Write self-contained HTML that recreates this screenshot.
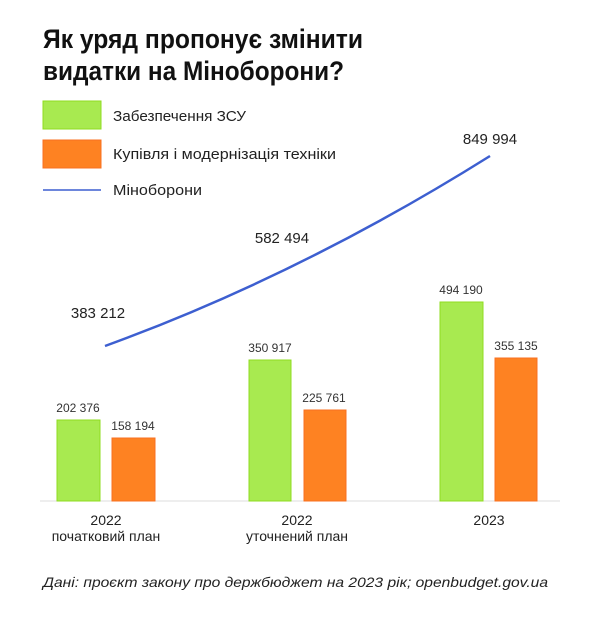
<!DOCTYPE html>
<html><head><meta charset="utf-8"><style>
html,body{margin:0;padding:0;background:#fff}
svg{display:block}
text{font-family:"Liberation Sans",sans-serif}
</style></head><body>
<svg width="600" height="617" viewBox="0 0 600 617" xmlns="http://www.w3.org/2000/svg">
<text x="43" y="48" font-size="27" font-weight="bold" fill="#111" textLength="320" lengthAdjust="spacingAndGlyphs">Як уряд пропонує змінити</text>
<text x="43" y="80" font-size="27" font-weight="bold" fill="#111" textLength="301" lengthAdjust="spacingAndGlyphs">видатки на Міноборони?</text>
<rect x="43" y="101" width="58" height="28" fill="#a8ea50" stroke="#8fdc20" stroke-width="1"/>
<rect x="43" y="140" width="58" height="28" fill="#fe8222" stroke="#f87020" stroke-width="1"/>
<line x1="43" y1="190" x2="101" y2="190" stroke="#3d5fd0" stroke-width="1.5"/>
<g font-size="15" fill="#222">
<text x="113" y="121" textLength="133" lengthAdjust="spacingAndGlyphs">Забезпечення ЗСУ</text>
<text x="113" y="159" textLength="223" lengthAdjust="spacingAndGlyphs">Купівля і модернізація техніки</text>
<text x="113" y="195" textLength="89" lengthAdjust="spacingAndGlyphs">Міноборони</text>
</g>
<line x1="40" y1="501" x2="560" y2="501" stroke="#ddd" stroke-width="1"/>
<g stroke-width="1">
<rect x="57" y="420" width="43" height="81" fill="#a8ea50" stroke="#8fdc20"/>
<rect x="112" y="438" width="43" height="63" fill="#fe8222" stroke="#f87020"/>
<rect x="249" y="360" width="42" height="141" fill="#a8ea50" stroke="#8fdc20"/>
<rect x="304" y="410" width="42" height="91" fill="#fe8222" stroke="#f87020"/>
<rect x="440" y="302" width="43" height="199" fill="#a8ea50" stroke="#8fdc20"/>
<rect x="495" y="358" width="42" height="143" fill="#fe8222" stroke="#f87020"/>
</g>
<path d="M105,346 Q300,275 490,156" fill="none" stroke="#3d5fd0" stroke-width="2.5"/>
<g font-size="12" fill="#333" text-anchor="middle">
<text x="78" y="412">202 376</text>
<text x="133" y="430">158 194</text>
<text x="270" y="352">350 917</text>
<text x="324" y="402">225 761</text>
<text x="461" y="294">494 190</text>
<text x="516" y="350">355 135</text>
</g>
<g font-size="15" fill="#222" text-anchor="middle">
<text x="98" y="318">383 212</text>
<text x="282" y="243">582 494</text>
<text x="490" y="144">849 994</text>
</g>
<g font-size="14" fill="#222" text-anchor="middle">
<text x="106" y="525">2022</text>
<text x="106" y="541">початковий план</text>
<text x="297" y="525">2022</text>
<text x="297" y="541">уточнений план</text>
<text x="489" y="525">2023</text>
</g>
<text x="43" y="587" font-size="14" font-style="italic" fill="#222" textLength="505" lengthAdjust="spacingAndGlyphs">Дані: проєкт закону про держбюджет на 2023 рік; openbudget.gov.ua</text>
</svg>
</body></html>
